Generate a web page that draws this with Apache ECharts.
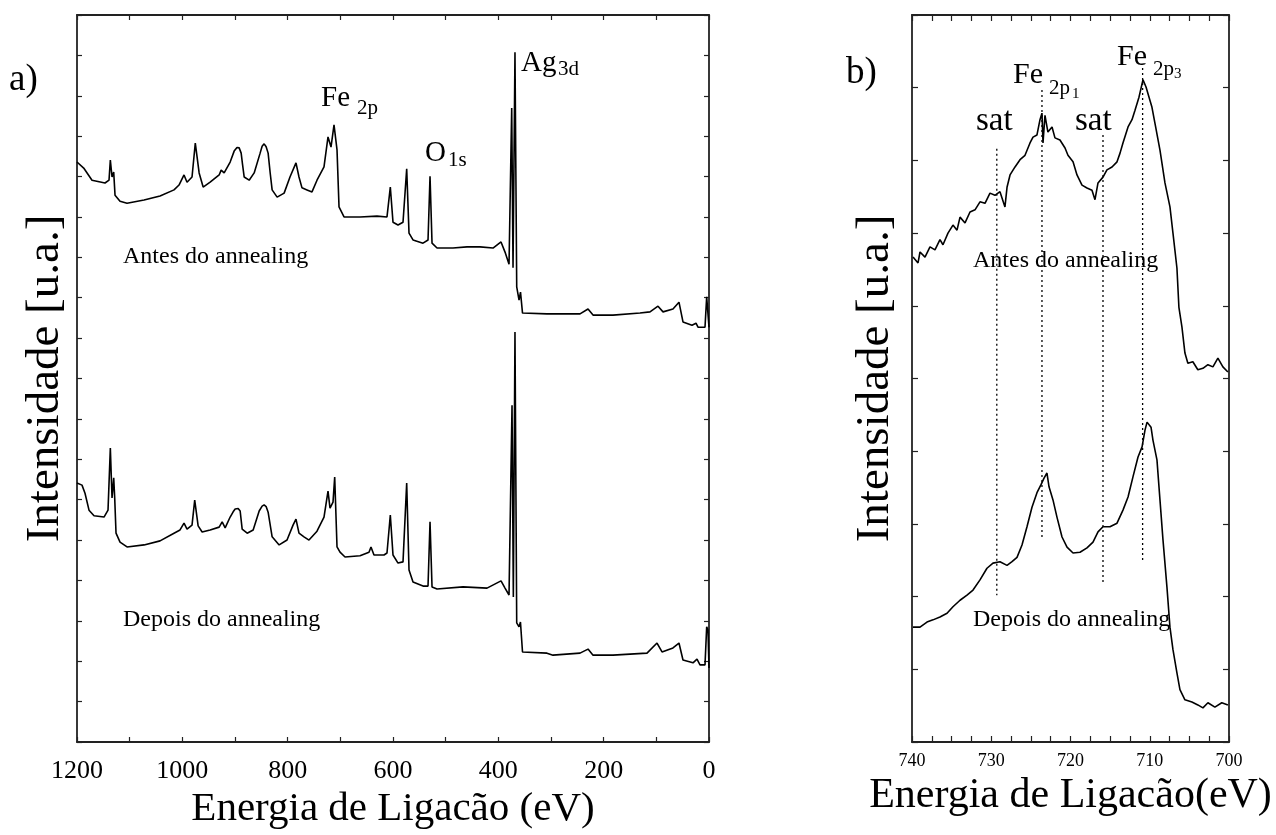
<!DOCTYPE html>
<html>
<head>
<meta charset="utf-8">
<title>XPS</title>
<script src="https://cdn.jsdelivr.net/npm/echarts@6/dist/echarts.min.js"></script>
<style>
  html, body { margin: 0; padding: 0; background: #fff; }
  #main { width: 1276px; height: 835px; }
</style>
</head>
<body>
<div id="main"></div>
<script>
// a) espectro largo (survey)
var surveyAntesE = [1200,1187.3,1171.5,1146.8,1139.2,1136.7,1133.5,1130.3,1127.8,1118.3,1105.0,1072.7,1042.3,1015.8,1006.3,996.8,991.1,981.6,975.4,968.1,960.5,947.2,930.1,926.3,920.6,909.2,901.6,896.2,892.1,888.3,885.7,882.6,873.1,863.6,852.3,848.5,844.7,840.9,837.1,833.3,829.5,820.0,806.7,795.6,784.2,778.5,772.8,763.3,753.8,744.3,731.0,723.4,717.7,712.0,706.3,702.5,693.0,662.6,630.4,611.4,605.1,600.0,590.5,581.0,574.0,569.6,562.0,543.0,533.5,529.7,525.9,516.4,486.1,459.5,434.8,410.1,394.9,387.3,379.7,374.6,372.1,368.4,365.1,360.7,357.9,354.1,307.6,244.9,229.7,220.2,182.3,131.0,112.0,96.8,87.3,68.4,57.0,49.4,32.3,24.7,20.9,7.6,4.4,1.9,0];
var surveyAntesI = [14.36,14.21,13.91,13.84,13.91,14.41,13.99,14.11,13.54,13.39,13.34,13.42,13.52,13.67,13.79,14.04,13.86,13.99,14.83,14.09,13.74,13.86,14.04,14.16,14.09,14.36,14.63,14.72,14.71,14.58,14.30,13.99,13.91,14.09,14.58,14.75,14.81,14.74,14.58,14.10,13.67,13.49,13.59,13.99,14.34,13.99,13.72,13.67,13.62,13.91,14.24,14.98,14.73,15.28,14.66,13.25,13.00,13.00,13.02,13.00,13.74,12.87,12.80,12.87,14.19,12.60,12.43,12.35,12.43,14.01,12.35,12.23,12.23,12.26,12.26,12.23,12.38,12.13,11.83,15.70,11.74,17.08,11.27,10.94,11.14,10.62,10.60,10.60,10.72,10.57,10.57,10.62,10.65,10.79,10.65,10.72,10.89,10.40,10.32,10.37,10.27,10.27,11.02,11.00,10.27];

var surveyDepoisE = [1200,1190.5,1184.8,1177.2,1167.7,1148.7,1141.1,1136.7,1133.5,1130.3,1128.4,1125.9,1118.3,1105.0,1072.7,1042.3,1015.8,1004.4,996.8,991.1,981.6,976.5,970.0,962.4,947.2,930.1,924.4,918.7,909.2,903.5,899.7,894.0,890.2,886.4,876.9,865.5,854.1,848.5,844.7,840.9,837.1,829.5,816.2,801.2,789.8,784.2,778.5,769.0,759.5,744.3,731.0,723.4,719.6,713.9,710.7,706.3,700.6,691.1,662.6,645.6,641.8,636.1,617.1,611.4,605.1,600.0,590.5,581.0,574.0,569.6,562.0,543.0,533.5,529.7,525.9,516.4,467.1,421.5,394.9,387.3,379.7,374.0,371.5,368.4,365.1,360.7,358.0,354.1,307.6,296.2,244.9,229.7,220.2,182.3,117.7,98.7,89.2,68.4,57.0,49.4,30.4,22.8,17.1,7.6,4.4,1.9,0];
var surveyDepoisI = [6.41,6.36,6.16,5.74,5.60,5.57,5.74,7.28,6.04,6.54,6.04,5.17,4.95,4.83,4.88,4.98,5.17,5.25,5.42,5.27,5.37,5.99,5.35,5.20,5.25,5.32,5.45,5.30,5.57,5.70,5.77,5.78,5.72,5.27,5.17,5.25,5.72,5.84,5.87,5.83,5.69,5.08,4.88,5.00,5.37,5.52,5.17,5.08,5.00,5.22,5.57,6.21,5.79,5.94,6.56,4.83,4.70,4.58,4.61,4.70,4.83,4.63,4.63,4.68,5.62,4.63,4.43,4.46,6.41,4.26,3.96,3.86,3.86,5.45,3.84,3.79,3.84,3.81,3.99,3.81,3.64,8.34,3.59,10.15,2.95,2.85,2.97,2.23,2.20,2.15,2.20,2.30,2.15,2.15,2.20,2.45,2.23,2.33,2.45,2.03,1.96,2.05,1.91,1.91,2.85,2.77,1.83];

// b) regiao Fe 2p
var fe2pAntesE = [739.87,739.24,738.99,738.36,737.73,737.10,736.47,736.09,735.46,734.83,734.32,733.94,733.31,732.68,732.05,731.42,730.79,730.16,729.53,728.90,728.27,728.01,727.63,727.00,726.37,725.74,725.11,724.73,724.23,723.85,723.60,723.47,723.22,722.85,722.33,721.96,721.33,720.69,720.32,719.68,719.18,718.55,717.92,717.29,716.91,716.53,715.90,715.40,714.76,714.13,713.75,713.38,712.74,712.24,711.86,711.36,710.85,710.47,710.22,709.72,709.34,708.71,708.08,707.45,707.07,706.57,706.32,705.94,705.56,705.19,704.56,703.93,703.29,702.66,702.03,701.40,700.77,700.14];
var fe2pAntesI = [6.67,6.59,6.74,6.67,6.81,6.77,6.91,6.84,7.00,7.11,7.04,7.22,7.14,7.29,7.32,7.43,7.41,7.55,7.52,7.57,7.36,7.63,7.80,7.91,8.01,8.07,8.24,8.32,8.35,8.56,8.65,8.24,8.62,8.39,8.46,8.31,8.28,8.17,8.07,7.98,7.80,7.66,7.62,7.59,7.46,7.69,7.77,7.87,7.91,7.98,8.10,8.24,8.46,8.56,8.69,8.87,9.11,9.01,9.00,8.73,8.51,8.14,7.69,7.36,7.00,6.52,5.98,5.71,5.35,5.21,5.23,5.12,5.14,5.19,5.16,5.28,5.16,5.09];

var fe2pDepoisE = [739.87,738.99,738.11,737.35,736.47,735.58,734.83,733.94,733.06,732.30,731.42,730.54,729.78,728.90,728.01,727.38,726.75,726.12,725.49,724.86,724.23,723.72,723.34,722.97,722.71,722.21,721.70,721.07,720.44,719.68,718.80,717.92,717.16,716.53,715.90,715.02,714.13,713.38,712.74,712.11,711.48,710.97,710.60,710.34,709.84,709.59,709.09,708.71,708.33,707.83,707.45,707.07,706.57,706.19,705.56,704.68,703.93,703.29,702.66,701.78,700.91,700.14];
var fe2pDepoisI = [1.58,1.58,1.65,1.68,1.72,1.77,1.86,1.95,2.02,2.09,2.23,2.39,2.46,2.48,2.43,2.48,2.54,2.71,2.96,3.23,3.43,3.54,3.63,3.70,3.51,3.33,3.09,2.82,2.68,2.60,2.61,2.67,2.75,2.89,2.96,2.96,3.01,3.19,3.37,3.65,3.92,4.06,4.29,4.40,4.33,4.15,3.88,3.33,2.78,2.13,1.58,1.27,0.95,0.72,0.58,0.55,0.51,0.47,0.54,0.48,0.54,0.51];

// linhas pontilhadas: sat, Fe2p1, sat, Fe2p3
var marcaE = [729.3, 723.6, 715.9, 710.9];
var marcaTopo = [8.16, 8.97, 8.35, 9.27];
var marcaBase = [2.02, 2.82, 2.20, 2.50];

var serif = '"Liberation Serif", "DejaVu Serif", serif';

function pares(xs, ys) {
  var out = [];
  for (var i = 0; i < xs.length; i++) out.push([xs[i], ys[i]]);
  return out;
}

function eixoX(grid, min, max, step, minors, tickLen, fontSize, margin, showLabel, pos, name, nameSize, nameGap) {
  return {
    type: 'value', gridIndex: grid, position: pos, inverse: true,
    min: min, max: max, interval: step,
    axisLine: { show: true, onZero: false, lineStyle: { color: '#222', width: 1.8 } },
    axisTick: { show: true, inside: true, length: tickLen, lineStyle: { color: '#222', width: 1.2 } },
    minorTick: { show: true, splitNumber: minors, length: tickLen, lineStyle: { color: '#222', width: 1.2 } },
    axisLabel: {
      show: showLabel, margin: margin, color: '#000', fontFamily: serif, fontSize: fontSize,
      formatter: function (v) { return String(v); }
    },
    splitLine: { show: false },
    name: name, nameLocation: 'middle', nameGap: nameGap,
    nameTextStyle: { color: '#000', fontFamily: serif, fontSize: nameSize }
  };
}

function eixoY(grid, max, tickLen, pos, name, nameGap) {
  return {
    type: 'value', gridIndex: grid, position: pos,
    min: 0, max: max, interval: 1,
    axisLine: { show: true, onZero: false, lineStyle: { color: '#222', width: 1.8 } },
    axisTick: { show: true, inside: true, length: tickLen, lineStyle: { color: '#222', width: 1.2 } },
    axisLabel: { show: false },
    splitLine: { show: false },
    name: name, nameLocation: 'middle', nameGap: nameGap,
    nameTextStyle: { color: '#000', fontFamily: serif, fontSize: 47 }
  };
}

function texto(str, x, y, size) {
  return {
    type: 'text', x: x, y: y, silent: true,
    style: { text: str, font: size + 'px ' + serif, fill: '#000',
             align: 'left', verticalAlign: 'middle', textAlign: 'left', textVerticalAlign: 'middle' }
  };
}

var linha = { color: '#000', width: 1.6 };

var series = [
  { type: 'line', xAxisIndex: 0, yAxisIndex: 0, data: pares(surveyAntesE, surveyAntesI) },
  { type: 'line', xAxisIndex: 0, yAxisIndex: 0, data: pares(surveyDepoisE, surveyDepoisI) },
  { type: 'line', xAxisIndex: 2, yAxisIndex: 2, data: pares(fe2pAntesE, fe2pAntesI) },
  { type: 'line', xAxisIndex: 2, yAxisIndex: 2, data: pares(fe2pDepoisE, fe2pDepoisI) }
].map(function (s) {
  s.showSymbol = false; s.symbol = 'none'; s.lineStyle = linha; s.animation = false;
  return s;
});

marcaE.forEach(function (e, i) {
  series.push({
    type: 'line', xAxisIndex: 2, yAxisIndex: 2, symbol: 'none', animation: false,
    lineStyle: { color: '#000', width: 1.3, type: [2, 3] },
    data: [[e, marcaTopo[i]], [e, marcaBase[i]]]
  });
});

var myChart = echarts.init(document.getElementById('main'), null, { renderer: 'canvas' });

var option = {
  backgroundColor: '#fff',
  animation: false,
  grid: [
    { left: 77, top: 15, width: 632, height: 727 },
    { left: 912, top: 15, width: 317, height: 727 }
  ],
  xAxis: [
    eixoX(0, 0, 1200, 200, 2, 5, 26, 16, true, 'bottom', 'Energia de Ligacão (eV)', 41, 44),
    eixoX(0, 0, 1200, 200, 2, 5, 26, 16, false, 'top', '', 10, 0),
    eixoX(1, 700, 740, 10, 4, 6, 18, 10, true, 'bottom', 'Energia de Ligacão(eV)', 42, 31),
    eixoX(1, 700, 740, 10, 4, 6, 18, 10, false, 'top', '', 10, 0)
  ],
  yAxis: [
    eixoY(0, 18, 5, 'left', 'Intensidade [u.a.]', 8),
    eixoY(0, 18, 5, 'right', '', 0),
    eixoY(1, 10, 6, 'left', 'Intensidade [u.a.]', 13),
    eixoY(1, 10, 6, 'right', '', 0)
  ],
  series: series,
  graphic: [
    texto('a)', 9, 80, 37),
    texto('Fe', 321, 98, 29), texto('2p', 357, 108, 21),
    texto('O', 425, 153, 29), texto('1s', 448, 160, 21),
    texto('Ag', 521, 63, 29), texto('3d', 558, 69, 21),
    texto('Antes do annealing', 123, 257, 24),
    texto('Depois do annealing', 123, 620, 24),
    texto('b)', 846, 73, 37),
    texto('sat', 976, 121, 33),
    texto('sat', 1075, 121, 33),
    texto('Fe', 1013, 75, 30), texto('2p', 1049, 88, 21), texto('1', 1072, 94, 15),
    texto('Fe', 1117, 57, 30), texto('2p', 1153, 69, 21), texto('3', 1174, 74, 15),
    texto('Antes do annealing', 973, 261, 24),
    texto('Depois do annealing', 973, 620, 24)
  ]
};

myChart.setOption(option);
</script>
</body>
</html>
